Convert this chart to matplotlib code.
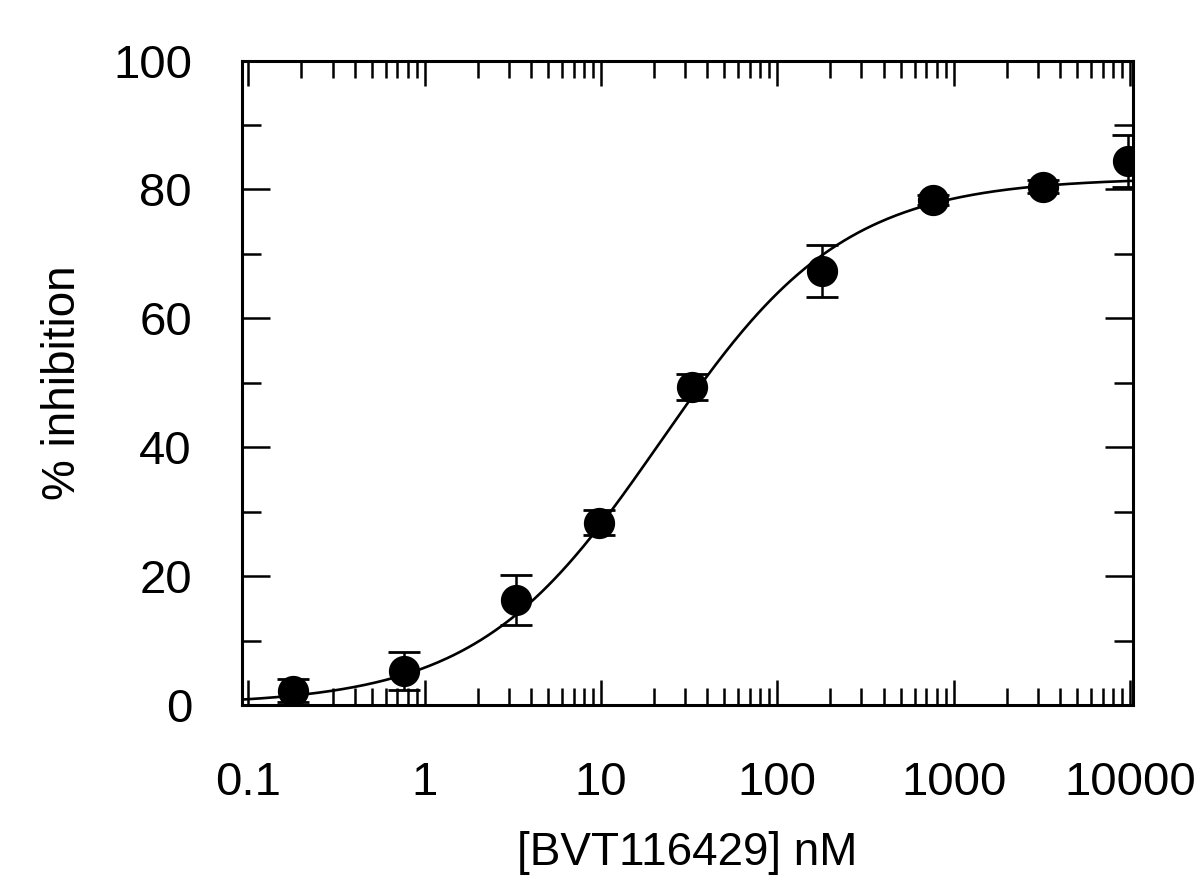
import numpy as np
import matplotlib
matplotlib.use("Agg")
import matplotlib.pyplot as plt
from matplotlib.ticker import LogLocator, FixedLocator, NullFormatter, FixedFormatter

plt.rcParams['font.family'] = ['Liberation Sans', 'DejaVu Sans']

# concentration (nM), mean % inhibition and error
conc = [0.18, 0.76, 3.3, 9.8, 33, 180, 760, 3200, 9700]
inhib = [2.2, 5.3, 16.3, 28.3, 49.3, 67.3, 78.4, 80.4, 84.4]
err = [1.8, 3.0, 3.9, 2.0, 2.0, 4.0, 0.8, 1.0, 4.0]

# fitted dose-response curve parameters (Hill equation)
top = 81.8
ic50 = 21.8
hill = 0.835

xticks = [0.1, 1, 10, 100, 1000, 10000]
xticklabels = ["0.1", "1", "10", "100", "1000", "10000"]

fig = plt.figure(figsize=(12, 8.84), dpi=100)
ax = fig.add_axes([242 / 1200, 1 - 705 / 884, (1133 - 242) / 1200, (705 - 60.5) / 884])

xc = np.logspace(np.log10(0.092), np.log10(10400), 400)
yc = top * xc ** hill / (xc ** hill + ic50 ** hill)
ax.plot(xc, yc, color="black", lw=1.9, zorder=2)

ax.errorbar(conc, inhib, yerr=err, fmt="o", color="black", ms=21.5,
            ecolor="black", elinewidth=1.8, capsize=11.5, capthick=2, zorder=3)

ax.set_xscale("log")
ax.set_xlim(0.092, 10400)
ax.set_ylim(0, 100)

ax.xaxis.set_major_locator(FixedLocator(xticks))
ax.xaxis.set_major_formatter(FixedFormatter(xticklabels))
ax.xaxis.set_minor_locator(LogLocator(base=10, subs=np.arange(2, 10), numticks=20))
ax.xaxis.set_minor_formatter(NullFormatter())
ax.yaxis.set_major_locator(FixedLocator([0, 20, 40, 60, 80, 100]))
ax.yaxis.set_minor_locator(FixedLocator([10, 30, 50, 70, 90]))

ax.tick_params(axis="both", which="both", direction="in", top=True, right=True,
               width=1.8, labelsize=34, colors="black")
ax.tick_params(axis="x", which="major", length=18, pad=40)
ax.tick_params(axis="x", which="minor", length=12)
ax.tick_params(axis="y", which="major", length=20, pad=36)
ax.tick_params(axis="y", which="minor", length=13.5)

for s in ax.spines.values():
    s.set_linewidth(2.2)

ax.set_xlabel("[BVT116429] nM", fontsize=33)
ax.set_ylabel("% inhibition", fontsize=33)
ax.xaxis.set_label_coords(0.5, -0.195)
ax.yaxis.set_label_coords(-0.176, 0.5)

fig.savefig("out.png", dpi=100)
